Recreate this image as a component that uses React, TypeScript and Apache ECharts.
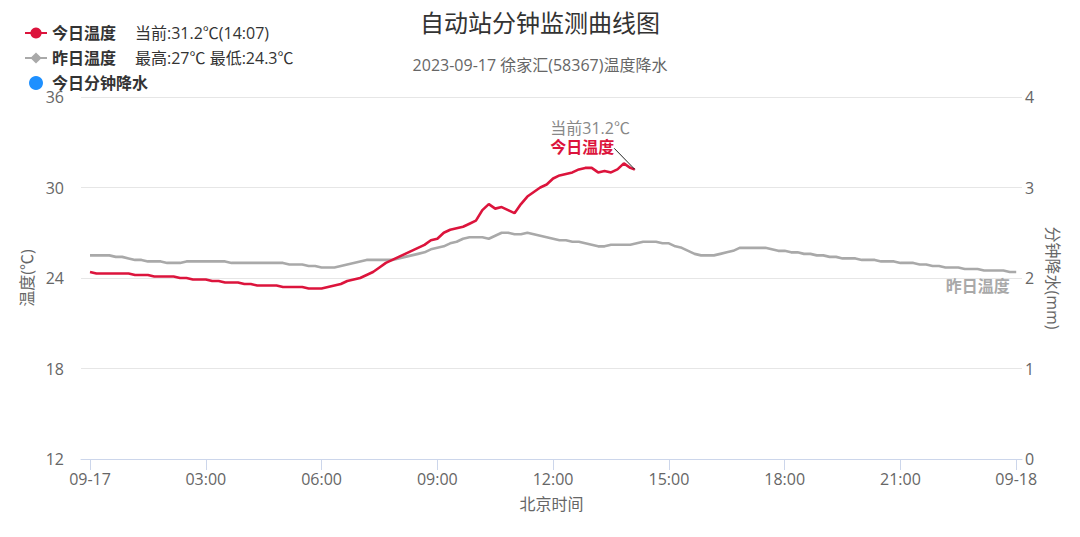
import React, { useEffect, useRef } from "react";
import * as echarts from "echarts";

// ---- data ----
const TITLE = "自动站分钟监测曲线图";
const SUBTITLE = "2023-09-17 徐家汇(58367)温度降水";
const X_NAME = "北京时间";
const Y_LEFT_NAME = "温度(℃)";
const Y_RIGHT_NAME = "分钟降水(mm)";

const xTickMinutes = [0, 180, 360, 540, 720, 900, 1080, 1260, 1440];
const xTickLabels = ["09-17", "03:00", "06:00", "09:00", "12:00", "15:00", "18:00", "21:00", "09-18"];

const STEP_MIN = 10; // sampling step of the arrays below (minutes)

// 今日温度, 00:00 .. 14:00 every 10 minutes
const todayTemp = [
  24.4, 24.3, 24.3, 24.3, 24.3, 24.3, 24.3, 24.2, 24.2, 24.2,
  24.1, 24.1, 24.1, 24.1, 24.0, 24.0, 23.9, 23.9, 23.9, 23.8,
  23.8, 23.7, 23.7, 23.7, 23.6, 23.6, 23.5, 23.5, 23.5, 23.5,
  23.4, 23.4, 23.4, 23.4, 23.3, 23.3, 23.3, 23.4, 23.5, 23.6,
  23.8, 23.9, 24.0, 24.2, 24.4, 24.7, 25.0, 25.2, 25.4, 25.6,
  25.8, 26.0, 26.2, 26.5, 26.6, 27.0, 27.2, 27.3, 27.4, 27.6,
  27.8, 28.5, 28.9, 28.6, 28.7, 28.5, 28.3, 28.9, 29.4, 29.7,
  30.0, 30.2, 30.6, 30.8, 30.9, 31.0, 31.2, 31.3, 31.3, 31.0,
  31.1, 31.0, 31.2, 31.6, 31.3,
];
const todayLast = { minute: 847, value: 31.2 }; // 14:07

// 昨日温度, 00:00 .. 24:00 every 10 minutes
const yesterdayTemp = [
  25.5, 25.5, 25.5, 25.5, 25.4, 25.4, 25.3, 25.2, 25.2, 25.1,
  25.1, 25.1, 25.0, 25.0, 25.0, 25.1, 25.1, 25.1, 25.1, 25.1,
  25.1, 25.1, 25.0, 25.0, 25.0, 25.0, 25.0, 25.0, 25.0, 25.0,
  25.0, 24.9, 24.9, 24.9, 24.8, 24.8, 24.7, 24.7, 24.7, 24.8,
  24.9, 25.0, 25.1, 25.2, 25.2, 25.2, 25.2, 25.2, 25.3, 25.4,
  25.5, 25.6, 25.7, 25.9, 26.0, 26.1, 26.3, 26.4, 26.6, 26.7,
  26.7, 26.7, 26.6, 26.8, 27.0, 27.0, 26.9, 26.9, 27.0, 26.9,
  26.8, 26.7, 26.6, 26.5, 26.5, 26.4, 26.4, 26.3, 26.2, 26.1,
  26.1, 26.2, 26.2, 26.2, 26.2, 26.3, 26.4, 26.4, 26.4, 26.3,
  26.3, 26.1, 26.0, 25.8, 25.6, 25.5, 25.5, 25.5, 25.6, 25.7,
  25.8, 26.0, 26.0, 26.0, 26.0, 26.0, 25.9, 25.8, 25.8, 25.7,
  25.7, 25.6, 25.6, 25.5, 25.5, 25.4, 25.4, 25.3, 25.3, 25.3,
  25.2, 25.2, 25.2, 25.1, 25.1, 25.1, 25.0, 25.0, 25.0, 24.9,
  24.9, 24.8, 24.8, 24.7, 24.7, 24.7, 24.6, 24.6, 24.6, 24.5,
  24.5, 24.5, 24.5, 24.4, 24.4,
];

// 今日分钟降水 (no rain recorded)
const todayRain: number[][] = [];

const legendNames = ["今日温度", "昨日温度", "今日分钟降水"];
const legendExtras: Record<string, string> = {
  今日温度: "当前:31.2℃(14:07)",
  昨日温度: "最高:27℃ 最低:24.3℃",
  今日分钟降水: "",
};
const currentNote = "当前31.2℃";
const leaderEnd = { minute: 815, value: 32.6 };

const RED = "#dc143c";
const GRAY = "#a9a9a9";
const BLUE = "#1e90ff";
const FONT = "'Open Sans', 'Noto Sans CJK SC', sans-serif";

export default function App() {
  const ref = useRef<HTMLDivElement>(null);

  useEffect(() => {
    if (!ref.current) return;
    const chart = echarts.init(ref.current, undefined, { renderer: "svg" });

    const todayData = todayTemp.map((v, i) => [i * STEP_MIN, v]);
    todayData.push([todayLast.minute, todayLast.value]);
    const yesterdayData = yesterdayTemp.map((v, i) => [i * STEP_MIN, v]);
    const yLast = yesterdayData[yesterdayData.length - 1];

    const option: any = {
      animation: false,
      textStyle: { fontFamily: FONT },
      title: [
        {
          text: TITLE,
          left: "center",
          top: 9,
          padding: 0,
          textStyle: { fontSize: 24, fontWeight: "normal", color: "#333", lineHeight: 26, fontFamily: FONT },
        },
        {
          text: SUBTITLE,
          left: "center",
          top: 56,
          padding: 0,
          textStyle: { fontSize: 16, fontWeight: "normal", color: "#666", lineHeight: 18, fontFamily: FONT },
        },
      ],
      legend: {
        orient: "vertical",
        left: 24,
        top: 25,
        padding: 0,
        itemWidth: 22,
        itemHeight: 14,
        itemGap: 9,
        data: [
          { name: legendNames[0] },
          { name: legendNames[1] },
          { name: legendNames[2], icon: "circle" },
        ],
        formatter: (name: string) =>
          legendExtras[name] ? `{n|${name}}{e|${legendExtras[name]}}` : `{n|${name}}`,
        textStyle: {
          fontFamily: FONT,
          lineHeight: 16,
          rich: {
            n: { fontSize: 16, fontWeight: "bold", color: "#333", fontFamily: FONT, lineHeight: 16 },
            e: { fontSize: 16, color: "#333", padding: [0, 0, 0, 19], fontFamily: FONT, lineHeight: 16 },
          },
        },
      },
      grid: { left: 81, right: 58, top: 97, bottom: 78 },
      xAxis: {
        type: "value",
        min: -14,
        max: 1449,
        name: X_NAME,
        nameLocation: "middle",
        nameGap: 37,
        nameTextStyle: { fontSize: 16, color: "#666", fontFamily: FONT },
        axisLine: { show: true, lineStyle: { color: "#ccd6eb", width: 1 } },
        axisTick: { show: true, length: 11, customValues: xTickMinutes, lineStyle: { color: "#ccd6eb" } },
        axisLabel: {
          customValues: xTickMinutes,
          margin: 12,
          fontSize: 16,
          lineHeight: 16,
          color: "#666",
          fontFamily: FONT,
          formatter: (v: number) => {
            const i = xTickMinutes.indexOf(v);
            return i >= 0 ? xTickLabels[i] : "";
          },
        },
        splitLine: { show: false },
      },
      yAxis: [
        {
          type: "value",
          min: 12,
          max: 36,
          interval: 6,
          name: Y_LEFT_NAME,
          nameLocation: "middle",
          nameGap: 44,
          nameTextStyle: { fontSize: 16, color: "#666", fontFamily: FONT },
          axisLine: { show: false },
          axisTick: { show: false },
          axisLabel: { margin: 17, fontSize: 16, lineHeight: 12, color: "#666", fontFamily: FONT },
          splitLine: { show: true, lineStyle: { color: "#e6e6e6", width: 1 } },
        },
        {
          type: "value",
          min: 0,
          max: 4,
          interval: 1,
          position: "right",
          name: Y_RIGHT_NAME,
          nameLocation: "middle",
          nameGap: 18,
          nameRotate: -90,
          nameTextStyle: { fontSize: 16, color: "#666", fontFamily: FONT },
          axisLine: { show: false },
          axisTick: { show: false },
          axisLabel: { margin: 3, fontSize: 16, lineHeight: 12, color: "#666", fontFamily: FONT },
          splitLine: { show: false },
        },
      ],
      series: [
        {
          name: legendNames[0],
          type: "line",
          yAxisIndex: 0,
          z: 4,
          data: todayData,
          showSymbol: false,
          symbol: "circle",
          symbolSize: 8,
          color: RED,
          lineStyle: { color: RED, width: 2.6 },
          itemStyle: { color: RED },
          markPoint: {
            symbol: "circle",
            symbolSize: 1,
            itemStyle: { color: "rgba(0,0,0,0)" },
            silent: true,
            data: [
              {
                coord: [todayLast.minute, todayLast.value],
                label: {
                  show: true,
                  position: [-84, -50],
                  align: "left",
                  verticalAlign: "top",
                  formatter: `{a|${currentNote}}\n{b|${legendNames[0]}}`,
                  rich: {
                    a: { fontSize: 16, color: "#888", lineHeight: 19, fontFamily: FONT },
                    b: { fontSize: 16, color: RED, fontWeight: "bold", lineHeight: 19, fontFamily: FONT },
                  },
                },
              },
            ],
          },
          markLine: {
            silent: true,
            symbol: ["none", "none"],
            lineStyle: { color: "#222", width: 1, type: "solid" },
            label: { show: false },
            data: [
              [
                { coord: [todayLast.minute, todayLast.value] },
                { coord: [leaderEnd.minute, leaderEnd.value] },
              ],
            ],
          },
        },
        {
          name: legendNames[1],
          type: "line",
          yAxisIndex: 0,
          z: 3,
          data: yesterdayData,
          showSymbol: false,
          symbol: "diamond",
          symbolSize: 8,
          color: GRAY,
          lineStyle: { color: GRAY, width: 2.6 },
          itemStyle: { color: GRAY },
          markPoint: {
            symbol: "circle",
            symbolSize: 1,
            itemStyle: { color: "rgba(0,0,0,0)" },
            silent: true,
            data: [
              {
                coord: yLast,
                label: {
                  show: true,
                  position: [-70, 6],
                  align: "left",
                  verticalAlign: "top",
                  formatter: legendNames[1],
                  fontSize: 16,
                  fontWeight: "bold",
                  color: GRAY,
                  lineHeight: 18,
                  fontFamily: FONT,
                },
              },
            ],
          },
        },
        {
          name: legendNames[2],
          type: "bar",
          yAxisIndex: 1,
          data: todayRain,
          color: BLUE,
          itemStyle: { color: BLUE },
        },
      ],
    };

    chart.setOption(option);
    return () => chart.dispose();
  }, []);

  return (
    <div
      ref={ref}
      style={{ position: "fixed", left: 0, top: 0, width: 1080, height: 537, background: "#fff" }}
    />
  );
}
